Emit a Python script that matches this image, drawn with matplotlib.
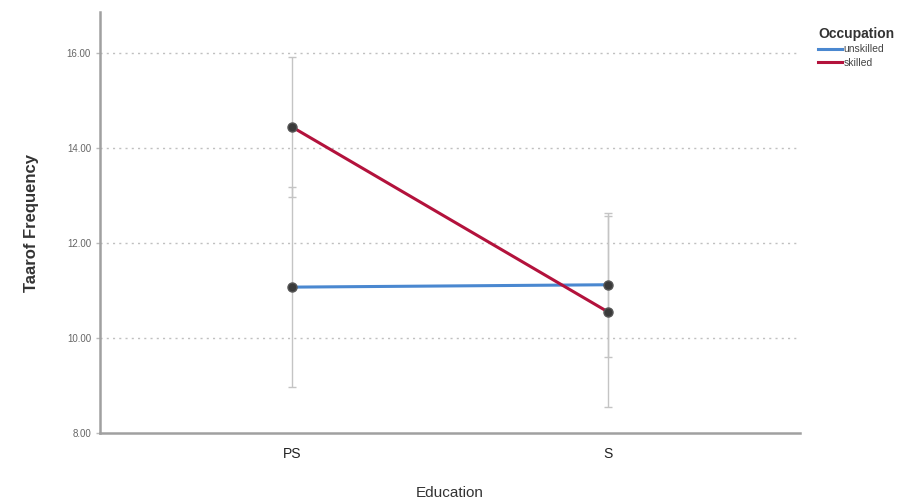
import numpy as np
import matplotlib
matplotlib.use("Agg")
import matplotlib.pyplot as plt

plt.rcParams['font.family'] = ['Liberation Sans', 'DejaVu Sans']

education = ['PS', 'S']
occupations = ['unskilled', 'skilled']
means = {
    'unskilled': [11.07, 11.12],
    'skilled': [14.44, 10.55],
}
ci_low = {
    'unskilled': [8.97, 9.60],
    'skilled': [12.97, 8.55],
}
ci_high = {
    'unskilled': [13.17, 12.64],
    'skilled': [15.91, 12.56],
}
colors = {'unskilled': '#4a88d0', 'skilled': '#b3123c'}

fig = plt.figure(figsize=(9.09, 5.0), dpi=100)
ax = fig.add_axes([0.11, 0.134, 0.77, 0.842])

x = np.arange(len(education))
for occ in occupations:
    m = np.array(means[occ])
    lo = m - np.array(ci_low[occ])
    hi = np.array(ci_high[occ]) - m
    ax.errorbar(x, m, yerr=[lo, hi], fmt='none', ecolor='#c4c4c4',
                elinewidth=1.0, capsize=3, capthick=1, zorder=1)
for occ in occupations:
    ax.plot(x, means[occ], color=colors[occ], lw=2.2, label=occ, zorder=2)
    ax.plot(x, means[occ], 'o', color='#3a3a3a', ms=6.5, mec='#555555',
            mew=1, zorder=3)

ax.set_xlim(-0.608, 1.608)
ax.set_ylim(8, 16.86)
ax.set_yticks([8, 10, 12, 14, 16])
ax.set_yticklabels(['%.2f' % v for v in [8, 10, 12, 14, 16]],
                   fontsize=7, color='#666666')
ax.set_xticks(x)
ax.set_xticklabels(education, fontsize=10, color='#222222')
ax.tick_params(axis='x', length=0, pad=10)
ax.tick_params(axis='y', length=3, color='#bbbbbb', width=1)
for yv in [10, 12, 14, 16]:
    ax.axhline(yv, color='#c0c0c0', ls=(0, (1.5, 3)), lw=1, zorder=0)

for side in ['top', 'right']:
    ax.spines[side].set_visible(False)
for side in ['left', 'bottom']:
    ax.spines[side].set_color('#a0a0a0')
    ax.spines[side].set_linewidth(1.8)

ax.set_ylabel('Taarof Frequency', fontsize=12, fontweight='bold',
              color='#333333', labelpad=20)
ax.set_xlabel('Education', fontsize=11, color='#333333', labelpad=18)

leg = ax.legend(loc='upper left', bbox_to_anchor=(1.02, 0.975), frameon=False,
                title='Occupation', fontsize=7.5, handlelength=2.3,
                handletextpad=0.15, labelspacing=0.35, borderaxespad=0.0)
leg.get_title().set_fontweight('bold')
leg.get_title().set_fontsize(10)
leg.get_title().set_color('#333333')
leg._legend_box.align = 'left'
for t in leg.get_texts():
    t.set_color('#444444')

fig.savefig('out.png', dpi=100)
